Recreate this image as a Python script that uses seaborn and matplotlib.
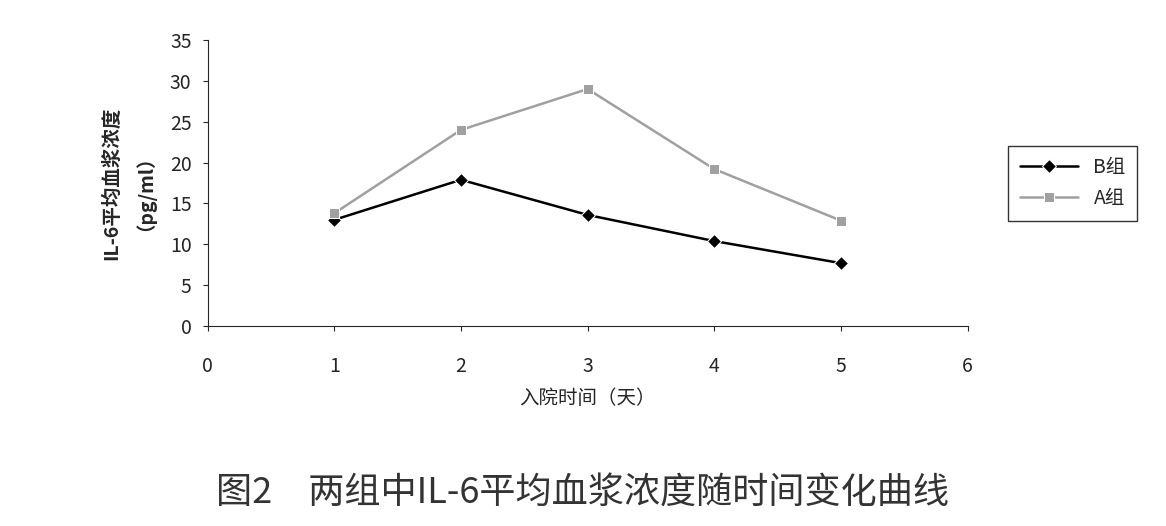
import matplotlib
matplotlib.use("Agg")
import matplotlib.pyplot as plt
import seaborn as sns
import pandas as pd

days = [1, 2, 3, 4, 5]
group_b = [13.0, 17.9, 13.6, 10.4, 7.7]
group_a = [13.8, 24.0, 29.0, 19.2, 12.9]

sns.set_style("ticks")
plt.rcParams['font.family'] = ['Noto Sans CJK SC', 'DejaVu Sans']

df = pd.DataFrame({"day": days * 2,
                   "value": group_b + group_a,
                   "group": ["B组"] * 5 + ["A组"] * 5})

fig = plt.figure(figsize=(11.66, 5.26), dpi=100)
ax = fig.add_axes([0.178, 0.38, 0.652, 0.544])
sns.lineplot(data=df, x="day", y="value", hue="group", style="group",
             palette={"B组": "black", "A组": "#a0a0a0"},
             markers={"B组": "D", "A组": "s"}, dashes=False,
             markersize=7, linewidth=1.8, ax=ax)

ax.set_xlim(0, 6)
ax.set_ylim(0, 35)
ax.set_xticks(range(0, 7))
ax.set_yticks(range(0, 36, 5))
ax.tick_params(axis="x", labelsize=14, pad=18)
ax.tick_params(axis="y", labelsize=14, pad=8)
ax.set_xlabel("入院时间（天）", fontsize=14, labelpad=8)
ax.set_ylabel("IL-6平均血浆浓度\n（pg/ml）", fontsize=14, fontweight="bold",
              labelpad=18)
sns.despine(ax=ax)

leg = ax.legend(loc="center left", bbox_to_anchor=(1.04, 0.5), frameon=True,
                fancybox=False, edgecolor="black", fontsize=14,
                handlelength=3, borderpad=0.6)

fig.text(0.5, 0.045, "图2　两组中IL-6平均血浆浓度随时间变化曲线", ha="center",
         fontsize=26, color="#333333")

fig.savefig("out.png", dpi=100)
